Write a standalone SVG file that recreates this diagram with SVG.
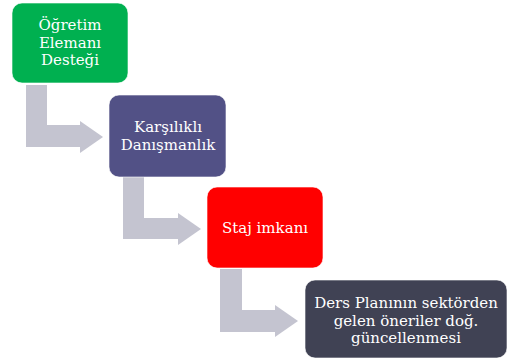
<svg xmlns="http://www.w3.org/2000/svg" width="510" height="360" viewBox="0 0 510 360">
<style>
.box{stroke:#ffffff;stroke-opacity:0.6;stroke-width:1}
.arrow{fill:#c4c4d0}
text{font-family:"DejaVu Serif","Liberation Serif",serif;font-size:15px;fill:#ffffff;text-anchor:middle}
</style>
<rect width="510" height="360" fill="#ffffff"/>
<g id="connectors">
<path class="arrow" d="M26,85 H47 V125 H80 V121 L103,137 L80,153 V147 H26 Z"/>
<path class="arrow" d="M123,177 H144 V218 H178 V213 L201,229 L178,245 V239 H123 Z"/>
<path class="arrow" d="M220,269 H242 V310 H275 V305 L298,321 L275,337 V332 H220 Z"/>
</g>
<g id="node1">
<rect class="box" x="12" y="3" width="116" height="80" rx="10" fill="#00b050"/>
<text x="70" y="30">Öğretim</text>
<text x="70" y="47.5">Elemanı</text>
<text x="70" y="65">Desteği</text>
</g>
<g id="node2">
<rect class="box" x="109" y="95" width="117" height="82" rx="10" fill="#525186"/>
<text x="168" y="132">Karşılıklı</text>
<text x="168" y="150">Danışmanlık</text>
</g>
<g id="node3">
<rect class="box" x="207" y="187" width="116" height="81" rx="10" fill="#ff0000"/>
<text x="265" y="233">Staj imkanı</text>
</g>
<g id="node4">
<rect class="box" x="305" y="280" width="202" height="78" rx="10" fill="#404254"/>
<text x="406" y="308">Ders Planının sektörden</text>
<text x="406" y="325.5">gelen öneriler doğ.</text>
<text x="406" y="343">güncellenmesi</text>
</g>
</svg>
